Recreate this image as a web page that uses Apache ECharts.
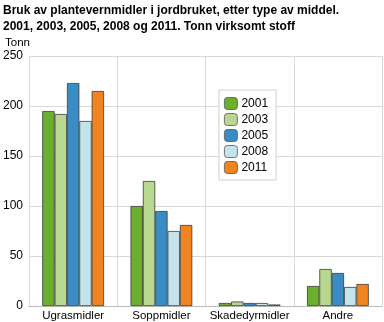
<!DOCTYPE html>
<html>
<head>
<meta charset="utf-8">
<script src="https://cdn.jsdelivr.net/npm/echarts@6/dist/echarts.min.js"></script>
<style>
  html, body { margin: 0; padding: 0; background: #fff; }
  #chart { width: 384px; height: 322px; }
</style>
</head>
<body>
<div id="chart"></div>
<script>
// Pesticide use in Norwegian agriculture, tonnes of active substance
const categories = ['Ugrasmidler', 'Soppmidler', 'Skadedyrmidler', 'Andre'];
const years = ['2001', '2003', '2005', '2008', '2011'];
const v2001 = [195, 100, 3, 20];
const v2003 = [192, 125, 4.5, 37];
const v2005 = [223, 95, 3, 33];
const v2008 = [185, 75, 3, 19];
const v2011 = [215, 81, 1.5, 22];
const yTicks = [0, 50, 100, 150, 200, 250];

const values = [v2001, v2003, v2005, v2008, v2011];
const colors = ['#6AAF2E', '#B8D78F', '#3A8DC4', '#C5E3EA', '#F0841F'];
const font = 'Liberation Sans, Arial, sans-serif';

const chart = echarts.init(document.getElementById('chart'), null, { renderer: 'canvas' });
chart.setOption({
  animation: false,
  textStyle: { fontFamily: font },
  title: {
    text: 'Bruk av plantevernmidler i jordbruket, etter type av middel.\n2001, 2003, 2005, 2008 og 2011. Tonn virksomt stoff',
    left: 3, top: 3, padding: 0,
    textStyle: { fontSize: 12, fontWeight: 'bold', color: '#000', lineHeight: 16, fontFamily: font }
  },
  grid: { left: 28, right: 2, top: 56, bottom: 15, containLabel: false },
  legend: {
    orient: 'vertical', left: 219, top: 90,
    itemWidth: 13, itemHeight: 12, itemGap: 3,
    padding: [7, 8, 6, 5],
    backgroundColor: '#fff', borderColor: '#d0d0d0', borderWidth: 1,
    textStyle: { fontSize: 12, color: '#000', fontFamily: font, lineHeight: 13, padding: [0, 0, 0, -1] },
    itemStyle: { borderColor: '#555', borderWidth: 0.8 },
    data: years
  },
  xAxis: {
    type: 'category', data: categories,
    axisLine: { show: true, lineStyle: { color: '#bbb' } },
    axisTick: { show: false },
    axisLabel: { color: '#000', fontSize: 11.5, margin: 4, interval: 0, fontFamily: font },
    splitLine: { show: true, interval: 0, lineStyle: { color: '#d9d9d9' } }
  },
  yAxis: {
    type: 'value', min: yTicks[0], max: yTicks[yTicks.length - 1], interval: 50,
    name: 'Tonn', nameLocation: 'end', nameGap: 7,
    nameTextStyle: { color: '#000', fontSize: 11.5, align: 'left', padding: [0, 0, 0, -24], fontFamily: font },
    axisLine: { show: true, lineStyle: { color: '#d9d9d9' } },
    axisTick: { show: false },
    axisLabel: { color: '#000', fontSize: 12, margin: 6, fontFamily: font },
    splitLine: { show: true, lineStyle: { color: '#d9d9d9' } }
  },
  series: years.map((y, i) => ({
    name: y, type: 'bar', data: values[i],
    barGap: '0%', barCategoryGap: '30%',
    itemStyle: { color: colors[i], borderColor: '#3a3a3a', borderWidth: 0.8 }
  }))
});
</script>
</body>
</html>
